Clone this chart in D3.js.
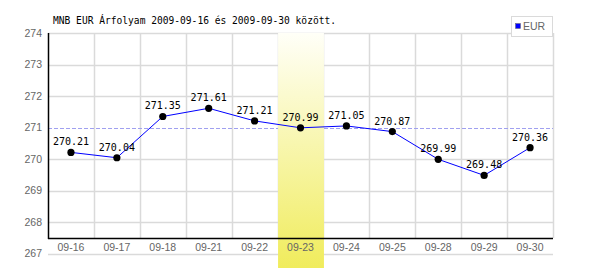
<!DOCTYPE html>
<html>
<head>
<meta charset="utf-8">
<script src="https://cdn.jsdelivr.net/npm/d3@7"></script>
<style>
  body { margin: 0; background: #fff; }
  svg { display: block; }
</style>
</head>
<body>
<div id="chart"></div>
<script>
// MNB EUR arfolyam, 2009-09-16 .. 2009-09-30
var categories = ['09-16', '09-17', '09-18', '09-21', '09-22', '09-23', '09-24', '09-25', '09-28', '09-29', '09-30'];
var eurValues = [270.21, 270.04, 271.35, 271.61, 271.21, 270.99, 271.05, 270.87, 269.99, 269.48, 270.36];
var yTicks = [267, 268, 269, 270, 271, 272, 273, 274];
var refValue = 271;
var highlightCat = '09-23';
var seriesName = 'EUR';
var title = 'MNB EUR Árfolyam 2009-09-16 és 2009-09-30 között.';

(function(){
  var W = 600, H = 270;
  var left = 48, right = 553, plotTop = 33;
  var axisY = 238;

  var svg = d3.select('#chart').append('svg')
    .attr('width', W).attr('height', H);

  var x = d3.scaleBand().domain(categories).range([left, right]);
  var y = d3.scaleLinear().domain([267, 274]).range([253.5, plotTop]);
  var cx = function(d, i){ return x(categories[i]) + x.bandwidth() / 2; };

  var defs = svg.append('defs');
  var grad = defs.append('linearGradient')
    .attr('id', 'hl').attr('x1', 0).attr('y1', 0).attr('x2', 0).attr('y2', 1);
  grad.append('stop').attr('offset', '0%').attr('stop-color', '#fffff8');
  grad.append('stop').attr('offset', '100%').attr('stop-color', '#f0ec5c');

  // horizontal grid
  svg.selectAll('line.hgrid').data(yTicks.filter(function(d){ return d !== refValue; }))
    .enter().append('line')
    .attr('class', 'hgrid')
    .attr('x1', left).attr('x2', right)
    .attr('y1', function(d){ return Math.round(y(d)) + 0.5; })
    .attr('y2', function(d){ return Math.round(y(d)) + 0.5; })
    .attr('stroke', '#dadada').attr('stroke-width', 1.5);

  // vertical grid at category boundaries
  var bounds = categories.slice(1).map(function(c){ return x(c); }).concat([right]);
  svg.selectAll('line.vgrid').data(bounds)
    .enter().append('line')
    .attr('class', 'vgrid')
    .attr('x1', function(d){ return Math.round(d) + 0.5; })
    .attr('x2', function(d){ return Math.round(d) + 0.5; })
    .attr('y1', y(274)).attr('y2', axisY)
    .attr('stroke', '#dadada').attr('stroke-width', 1.5);

  // reference dashed line
  svg.append('line')
    .attr('x1', left).attr('x2', right)
    .attr('y1', Math.round(y(refValue)) + 0.5).attr('y2', Math.round(y(refValue)) + 0.5)
    .attr('stroke', '#a0a0f0').attr('stroke-dasharray', '4,2');

  // highlighted day
  svg.append('rect')
    .attr('x', x(highlightCat) + 0.5)
    .attr('y', y(274))
    .attr('width', x.bandwidth())
    .attr('height', 268 - y(274))
    .attr('fill', 'url(#hl)');

  // axes lines
  svg.append('line')
    .attr('x1', left + 0.5).attr('x2', left + 0.5)
    .attr('y1', y(274)).attr('y2', axisY + 1)
    .attr('stroke', '#000').attr('stroke-width', 1.5);
  svg.append('line')
    .attr('x1', left).attr('x2', right)
    .attr('y1', axisY + 0.5).attr('y2', axisY + 0.5)
    .attr('stroke', '#000').attr('stroke-width', 1.5);

  // y axis labels
  var yAxis = d3.axisLeft(y).tickValues(yTicks).tickSize(0).tickPadding(6).tickFormat(d3.format('d'));
  var gy = svg.append('g').attr('transform', 'translate(' + left + ',0)').call(yAxis);
  gy.select('.domain').remove();
  gy.selectAll('text')
    .attr('fill', '#666')
    .style('font-family', '"Liberation Sans", Arial, sans-serif')
    .style('font-size', '10.5px');

  // x axis labels
  var xAxis = d3.axisBottom(x).tickSize(0).tickPadding(6);
  var gx = svg.append('g').attr('transform', 'translate(0,' + axisY + ')').call(xAxis);
  gx.select('.domain').remove();
  gx.selectAll('text')
    .attr('fill', '#666')
    .style('font-family', '"Liberation Sans", Arial, sans-serif')
    .style('font-size', '10.5px');

  // series line
  var line = d3.line()
    .x(cx)
    .y(function(d){ return y(d); });
  svg.append('path')
    .datum(eurValues)
    .attr('d', line)
    .attr('fill', 'none')
    .attr('stroke', '#0000ff')
    .attr('stroke-width', 1);

  svg.selectAll('circle.pt').data(eurValues)
    .enter().append('circle')
    .attr('class', 'pt')
    .attr('cx', cx)
    .attr('cy', function(d){ return y(d); })
    .attr('r', 3.6)
    .attr('fill', '#000');

  svg.selectAll('text.val').data(eurValues)
    .enter().append('text')
    .attr('class', 'val')
    .attr('x', cx)
    .attr('y', function(d){ return y(d) - 7; })
    .attr('text-anchor', 'middle')
    .style('font-family', '"DejaVu Sans Mono", monospace')
    .style('font-size', '10px')
    .attr('fill', '#000')
    .text(function(d){ return d.toFixed(2); });

  // title
  svg.append('text')
    .attr('x', 53).attr('y', 24)
    .style('font-family', '"DejaVu Sans Mono", monospace')
    .style('font-size', '9.6px')
    .attr('fill', '#000')
    .text(title);

  // legend
  var lg = svg.append('g');
  lg.append('rect')
    .attr('x', 511.5).attr('y', 16.5).attr('width', 41).attr('height', 20)
    .attr('fill', '#fff').attr('stroke', '#dadada');
  lg.append('rect')
    .attr('x', 515.5).attr('y', 23.5).attr('width', 5).attr('height', 5)
    .attr('fill', '#0000ff').attr('stroke', '#666').attr('stroke-width', 0.5);
  lg.append('text')
    .attr('x', 523).attr('y', 30)
    .attr('fill', '#666')
    .style('font-family', '"Liberation Sans", Arial, sans-serif')
    .style('font-size', '10.5px')
    .text(seriesName);
})();
</script>
</body>
</html>
